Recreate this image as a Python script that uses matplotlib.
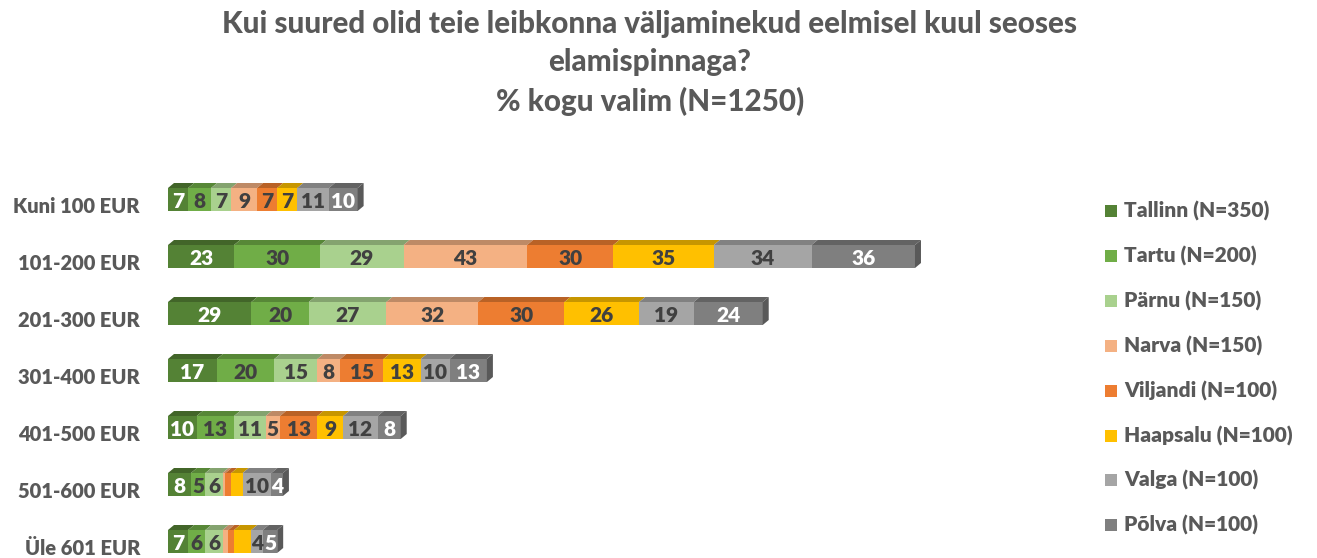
import matplotlib
matplotlib.use("Agg")
import matplotlib.pyplot as plt
from matplotlib.patches import Polygon, Rectangle
from matplotlib.colors import to_rgb

plt.rcParams['font.family'] = ['Lato', 'DejaVu Sans']

title = "Kui suured olid teie leibkonna väljaminekud eelmisel kuul seoses\nelamispinnaga?\n% kogu valim (N=1250)"
categories = ["Kuni 100 EUR", "101-200 EUR", "201-300 EUR", "301-400 EUR",
              "401-500 EUR", "501-600 EUR", "Üle 601 EUR"]
series_names = ["Tallinn (N=350)", "Tartu (N=200)", "Pärnu (N=150)", "Narva (N=150)",
                "Viljandi (N=100)", "Haapsalu (N=100)", "Valga (N=100)", "Põlva (N=100)"]
tallinn = [7, 23, 29, 17, 10, 8, 7]
tartu = [8, 30, 20, 20, 13, 5, 6]
parnu = [7, 29, 27, 15, 11, 6, 6]
narva = [9, 43, 32, 8, 5, 1, 2]
viljandi = [7, 30, 30, 15, 13, 2, 2]
haapsalu = [7, 35, 26, 13, 9, 4, 6]
valga = [11, 34, 19, 10, 12, 10, 4]
polva = [10, 36, 24, 13, 8, 4, 5]
series = [tallinn, tartu, parnu, narva, viljandi, haapsalu, valga, polva]

colors = ["#548235", "#70AD47", "#A9D18E", "#F4B183", "#ED7D31", "#FFC000", "#A5A5A5", "#7F7F7F"]
label_colors = ["white", "#404040", "#404040", "#404040", "#404040", "#404040", "#404040", "white"]
hidden = {(5, 3), (5, 4), (5, 5), (6, 3), (6, 4), (6, 5)}

W, H = 1317, 558
fig = plt.figure(figsize=(W / 100, H / 100), dpi=100)
ax = fig.add_axes([0, 0, 1, 1])
ax.axis("off")

px_x0 = 168
ppu = 2.873
row_px0 = 199.5
row_step = 57.0
ax.set_xlim(-px_x0 / ppu, (W - px_x0) / ppu)
ax.set_ylim((H - row_px0) / row_step, -row_px0 / row_step)

bar_h = 23 / row_step
dx = 6 / ppu
dy = 5 / row_step


def shade(c, f):
    r, g, b = to_rgb(c)
    return (r * f, g * f, b * f)


BW = "heavy"
text_grey = "#595959"
for i, cat in enumerate(categories):
    left = 0.0
    top = i - bar_h / 2
    for j, s in enumerate(series):
        v = s[i]
        ax.add_patch(Rectangle((left, top), v, bar_h, facecolor=colors[j], edgecolor="none", zorder=2))
        ax.add_patch(Polygon([(left, top), (left + v, top), (left + v + dx, top - dy), (left + dx, top - dy)],
                             closed=True, facecolor=shade(colors[j], 0.78), edgecolor="none", zorder=2))
        if (i, j) not in hidden:
            ax.text(left + v / 2, i + 0.04, str(v), ha="center", va="center", fontsize=15,
                    fontweight=BW, color=label_colors[j], zorder=3)
        left += v
    ax.add_patch(Polygon([(left, top), (left + dx, top - dy), (left + dx, top + bar_h - dy), (left, top + bar_h)],
                         closed=True, facecolor=shade(colors[-1], 0.7), edgecolor="none", zorder=2))
    ax.text(-28 / ppu, i + 0.12, cat, ha="right", va="center", fontsize=14.5,
            fontweight=BW, color=text_grey)

fig.text(650 / W, 1 - 63 / H, title, ha="center", va="center", fontsize=21.3, fontweight="black",
         color=text_grey, linespacing=1.43)

leg_y0 = 211
leg_step = 44.9
for j, name in enumerate(series_names):
    y = 1 - (leg_y0 + j * leg_step) / H
    fig.patches.append(Rectangle((1105 / W, y - 6 / H), 12 / W, 12 / H, transform=fig.transFigure,
                                 facecolor=colors[j], edgecolor="none"))
    fig.text(1124 / W, y, name, ha="left", va="center", fontsize=15, fontweight=BW, color=text_grey)

fig.savefig("out.png", dpi=100)
